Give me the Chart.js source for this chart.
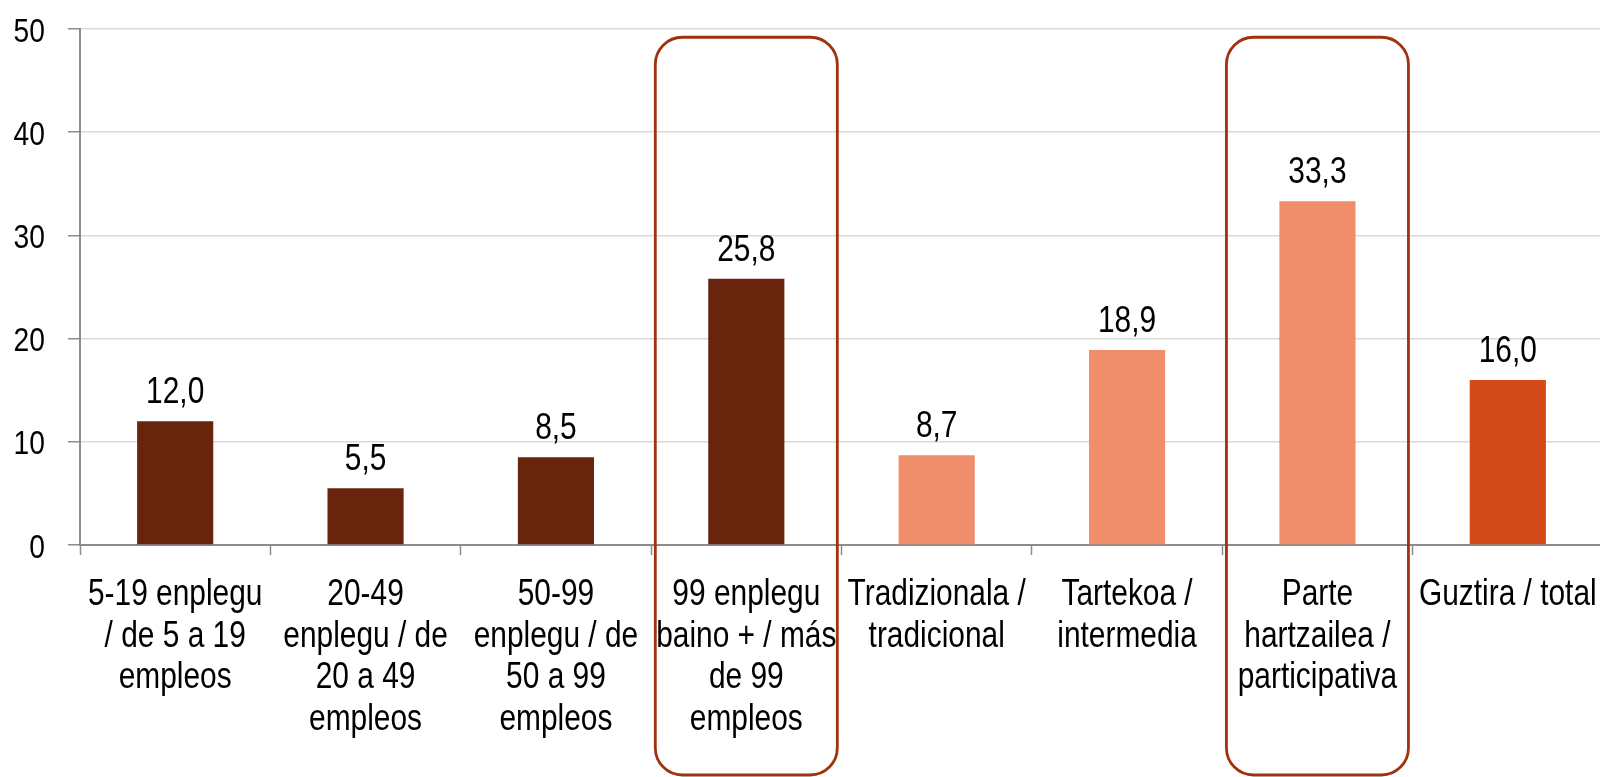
<!DOCTYPE html>
<html>
<head>
<meta charset="utf-8">
<script src="https://cdn.jsdelivr.net/npm/chart.js"></script>
<style>
  html, body { margin: 0; padding: 0; background: #fff; overflow: hidden; }
  #wrap { width: 1605px; height: 777px; position: relative; }
</style>
</head>
<body>
<div id="wrap"><canvas id="chart"></canvas></div>
<script>
// categorías (eje X, en varias líneas)
const categories = [
  ['5-19 enplegu', '/ de 5 a 19', 'empleos'],
  ['20-49', 'enplegu / de', '20 a 49', 'empleos'],
  ['50-99', 'enplegu / de', '50 a 99', 'empleos'],
  ['99 enplegu', 'baino + / más', 'de 99', 'empleos'],
  ['Tradizionala /', 'tradicional'],
  ['Tartekoa /', 'intermedia'],
  ['Parte', 'hartzailea /', 'participativa'],
  ['Guztira / total'],
];
const values = [12.0, 5.5, 8.5, 25.8, 8.7, 18.9, 33.3, 16.0];
const barColors = ['#69240D', '#69240D', '#69240D', '#69240D', '#F08E6C', '#F08E6C', '#F08E6C', '#D24A18'];
const yTicks = [0, 10, 20, 30, 40, 50];
// categorías resaltadas con un recuadro redondeado
const highlighted = [3, 6];

const FONT = '"Liberation Sans", Arial, sans-serif';
const NARROW = 0.83; // imita Arial Narrow

// texto estrechado horizontalmente
function narrowText(ctx, text, x, y, align) {
  ctx.save();
  ctx.translate(x, y);
  ctx.scale(NARROW, 1);
  ctx.textAlign = align;
  ctx.fillText(text, 0, 0);
  ctx.restore();
}

const textLayer = {
  id: 'textLayer',
  afterDatasetsDraw(chart) {
    const ctx = chart.ctx;
    const xs = chart.scales.x;
    const ys = chart.scales.y;
    const area = chart.chartArea;
    ctx.save();
    ctx.fillStyle = '#000';
    ctx.textBaseline = 'alphabetic';

    // valores encima de las barras
    ctx.font = '36px ' + FONT;
    chart.getDatasetMeta(0).data.forEach((bar, i) => {
      narrowText(ctx, values[i].toFixed(1).replace('.', ','), bar.x, bar.y - 18, 'center');
    });

    // etiquetas del eje X
    categories.forEach((lines, i) => {
      const cx = xs.getPixelForValue(i);
      lines.forEach((line, k) => {
        narrowText(ctx, line, cx, area.bottom + 60 + k * 41.5, 'center');
      });
    });

    // etiquetas del eje Y
    ctx.font = '34px ' + FONT;
    yTicks.forEach(v => {
      narrowText(ctx, String(v), area.left - 35, ys.getPixelForValue(v) + 12.5, 'right');
    });
    ctx.restore();
  },
};

// recuadros redondeados alrededor de las categorías resaltadas
const highlightBoxes = {
  id: 'highlightBoxes',
  afterDraw(chart) {
    const ctx = chart.ctx;
    const xs = chart.scales.x;
    const ys = chart.scales.y;
    const catW = xs.getPixelForValue(1) - xs.getPixelForValue(0);
    const half = catW * 0.478;
    const top = ys.getPixelForValue(49.2);
    const bottom = chart.height - 2;
    ctx.save();
    ctx.strokeStyle = '#A0320F';
    ctx.lineWidth = 2.8;
    highlighted.forEach(i => {
      const cx = xs.getPixelForValue(i);
      ctx.beginPath();
      ctx.roundRect(cx - half, top, half * 2, bottom - top, 27);
      ctx.stroke();
    });
    ctx.restore();
  },
};

new Chart(document.getElementById('chart'), {
  type: 'bar',
  data: {
    labels: categories,
    datasets: [{
      data: values,
      backgroundColor: barColors,
      borderWidth: 0,
      categoryPercentage: 1,
      barPercentage: 0.4,
    }],
  },
  options: {
    responsive: true,
    maintainAspectRatio: false,
    animation: false,
    layout: { padding: { top: 29, right: 2, bottom: 222, left: 0 } },
    plugins: {
      legend: { display: false },
      tooltip: { enabled: false },
    },
    scales: {
      x: {
        grid: {
          offset: true,
          drawOnChartArea: false,
          drawTicks: true,
          tickLength: 10,
          tickColor: '#8C8C8C',
          tickWidth: 1.5,
        },
        border: { display: true, color: '#8C8C8C', width: 2 },
        ticks: { display: false, autoSkip: false },
        afterFit(axis) { axis.height = 10; },
      },
      y: {
        min: 0,
        max: 50,
        afterBuildTicks(axis) {
          axis.ticks = yTicks.map(v => ({ value: v }));
        },
        grid: {
          color: '#D9D9D9',
          lineWidth: 1.5,
          drawTicks: true,
          tickLength: 12,
          tickColor: '#8C8C8C',
        },
        border: { display: true, color: '#8C8C8C', width: 2 },
        ticks: { display: false },
        afterFit(axis) { axis.width = 80; },
      },
    },
  },
  plugins: [textLayer, highlightBoxes],
});
</script>
</body>
</html>
